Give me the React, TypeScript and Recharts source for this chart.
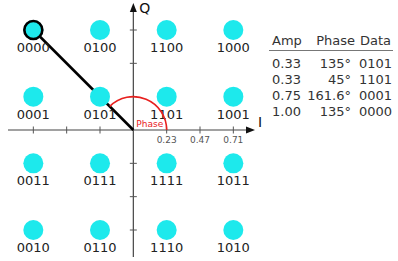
import React from "react";
import {
  ReferenceDot,
  ReferenceLine,
  Scatter,
  ScatterChart,
  XAxis,
  YAxis,
} from "recharts";

// constellation grid (16-QAM)
const I_LEVELS = [-3, -1, 1, 3];
const Q_LEVELS = [3, 1, -1, -3];
const CODES = [
  ["0000", "0100", "1100", "1000"],
  ["0001", "0101", "1101", "1001"],
  ["0011", "0111", "1111", "1011"],
  ["0010", "0110", "1110", "1010"],
];

// selected symbol and its phase
const SELECTED = { i: -3, q: 3 };
const PHASE_DEG = 135;
const PHASE_RADIUS = 1;

// axis ticks
const I_TICKS = [-3, -2, -1, 1, 2, 3];
const Q_TICKS = [-3, -2, -1, 1, 2, 3];
const I_LABEL_TICKS = [1, 2, 3];
const I_LABEL_TEXT = ["0.23", "0.47", "0.71"];

// table
const TABLE_HEADER = ["Amp", "Phase", "Data"];
const AMPS = ["0.33", "0.33", "0.75", "1.00"];
const PHASES = ["135°", "45°", "161.6°", "135°"];
const DATA_CODES = ["0101", "1101", "0001", "0000"];

const W = 398;
const H = 261;
const U = 100 / 3; // px per grid unit
const ORIGIN_Y = 130;
const I_MIN = -3.76;
const I_MAX = 3.65;
const Q_MIN = -3.81;
const Q_MAX = 3.81;

const CYAN = "#1de9ec";
const AXIS = "#444";
const RED = "#e8201e";
const FONT = '"DejaVu Sans", Verdana, sans-serif';

const points = Q_LEVELS.flatMap((q, r) =>
  I_LEVELS.map((i, c) => ({ i, q, code: CODES[r][c] }))
);

const SymbolShape = (props: any) => {
  const { cx, cy, payload } = props;
  return (
    <g>
      <circle cx={cx} cy={cy} r={10} fill={CYAN} />
      <text
        x={cx}
        y={cy + 22}
        textAnchor="middle"
        fontSize={13}
        fontFamily={FONT}
        fill="#222"
      >
        {payload.code}
      </text>
    </g>
  );
};

const PhaseArc = (props: any) => {
  const { cx, cy } = props;
  const r = PHASE_RADIUS * U;
  const a = (PHASE_DEG * Math.PI) / 180;
  const ex = cx + r * Math.cos(a);
  const ey = cy - r * Math.sin(a);
  return (
    <g>
      <path
        d={`M ${cx + r} ${cy} A ${r} ${r} 0 0 0 ${ex} ${ey}`}
        fill="none"
        stroke={RED}
        strokeWidth={1.6}
      />
      <text x={cx + 3} y={cy - 3} fontSize={9} fontFamily={FONT} fill={RED}>
        Phase
      </text>
    </g>
  );
};

const tickShape = (vertical: boolean) => (props: any) => {
  const { cx, cy } = props;
  return vertical ? (
    <line x1={cx} y1={cy - 3.5} x2={cx} y2={cy + 3.5} stroke="#555" />
  ) : (
    <line x1={cx - 3.5} y1={cy} x2={cx + 3.5} y2={cy} stroke="#555" />
  );
};

const ArrowRight = (props: any) => {
  const { cx, cy } = props;
  return (
    <g>
      <path d={`M ${cx} ${cy} L ${cx - 9} ${cy - 3.5} L ${cx - 9} ${cy + 3.5} Z`} fill="#111" />
      <text x={cx + 3} y={cy - 3} fontSize={14} fontFamily={FONT} fill="#111">
        I
      </text>
    </g>
  );
};

const ArrowUp = (props: any) => {
  const { cx, cy } = props;
  return (
    <g>
      <path d={`M ${cx} ${cy} L ${cx - 3.5} ${cy + 9} L ${cx + 3.5} ${cy + 9} Z`} fill="#111" />
      <text x={cx + 6} y={cy + 10} fontSize={14} fontFamily={FONT} fill="#111">
        Q
      </text>
    </g>
  );
};

const TickLabel = (text: string) => (props: any) => {
  const { cx, cy } = props;
  return (
    <text x={cx} y={cy + 13} textAnchor="middle" fontSize={9} fontFamily={FONT} fill="#555">
      {text}
    </text>
  );
};

export default function App() {
  return (
    <div
      style={{
        position: "absolute",
        left: 0,
        top: 0,
        width: W,
        height: H,
        background: "#fff",
      }}
    >
      <ScatterChart
        width={W}
        height={H}
        margin={{ top: 0, right: W - 8 * U, bottom: 0, left: 0 }}
      >
        <XAxis type="number" dataKey="i" domain={[-4, 4]} hide allowDataOverflow />
        <YAxis
          type="number"
          dataKey="q"
          domain={[-(H - ORIGIN_Y) / U, ORIGIN_Y / U]}
          hide
          allowDataOverflow
        />
        <ReferenceLine
          segment={[{ x: I_MIN, y: 0 }, { x: I_MAX - 0.1, y: 0 }]}
          stroke={AXIS}
          strokeWidth={1.2}
          ifOverflow="visible"
        />
        <ReferenceLine
          segment={[{ x: 0, y: Q_MIN }, { x: 0, y: Q_MAX - 0.1 }]}
          stroke={AXIS}
          strokeWidth={1.2}
          ifOverflow="visible"
        />
        {I_TICKS.map((t) => (
          <ReferenceDot key={`it${t}`} x={t} y={0} shape={tickShape(true)} ifOverflow="visible" />
        ))}
        {Q_TICKS.map((t) => (
          <ReferenceDot key={`qt${t}`} x={0} y={t} shape={tickShape(false)} ifOverflow="visible" />
        ))}
        {I_LABEL_TICKS.map((t, k) => (
          <ReferenceDot key={`il${t}`} x={t} y={0} shape={TickLabel(I_LABEL_TEXT[k])} ifOverflow="visible" />
        ))}
        <ReferenceDot x={I_MAX} y={0} shape={ArrowRight} ifOverflow="visible" />
        <ReferenceDot x={0} y={Q_MAX} shape={ArrowUp} ifOverflow="visible" />
        <Scatter data={points} isAnimationActive={false} shape={SymbolShape} />
        <ReferenceLine
          segment={[{ x: SELECTED.i, y: SELECTED.q }, { x: 0, y: 0 }]}
          stroke="#000"
          strokeWidth={2.6}
          ifOverflow="visible"
        />
        <ReferenceDot
          x={SELECTED.i}
          y={SELECTED.q}
          r={9}
          fill={CYAN}
          stroke="#000"
          strokeWidth={2.6}
          ifOverflow="visible"
        />
        <ReferenceDot x={0} y={0} shape={PhaseArc} ifOverflow="visible" />
      </ScatterChart>
      <svg
        width={W}
        height={H}
        style={{ position: "absolute", left: 0, top: 0, pointerEvents: "none" }}
        fontFamily={FONT}
        fontSize={13}
        fill="#333"
      >
        <text x={272} y={45}>{TABLE_HEADER[0]}</text>
        <text x={355} y={45} textAnchor="end">{TABLE_HEADER[1]}</text>
        <text x={391} y={45} textAnchor="end">{TABLE_HEADER[2]}</text>
        <line x1={269} y1={50.5} x2={393} y2={50.5} stroke="#777" strokeWidth={1} />
        {AMPS.map((a, k) => {
          const y = 67.5 + k * 16;
          return (
            <g key={k}>
              <text x={272} y={y}>{a}</text>
              <text x={351} y={y} textAnchor="end">{PHASES[k]}</text>
              <text x={392} y={y} textAnchor="end">{DATA_CODES[k]}</text>
            </g>
          );
        })}
      </svg>
    </div>
  );
}
